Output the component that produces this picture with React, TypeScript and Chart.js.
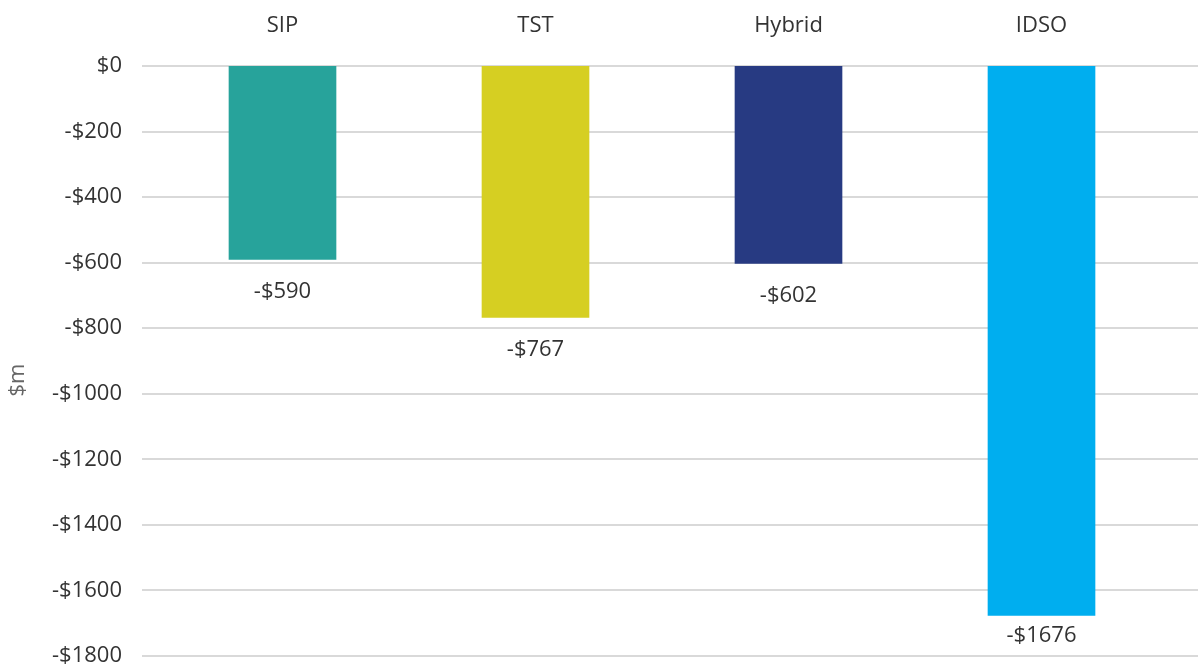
import React, { useEffect, useRef } from "react";
import { Chart, registerables } from "chart.js";

Chart.register(...registerables);

const categories = ["SIP", "TST", "Hybrid", "IDSO"];
const values = [-590, -767, -602, -1676];
const barColors = ["#27A39B", "#D6CF22", "#273A82", "#00AEEF"];
const yMin = -1800;
const yMax = 0;
const yStep = 200;
const yTitle = "$m";

const FONT = "'Open Sans', sans-serif";
const TEXT = "#333333";
const FS = 22;

const fmt = (v: number) => (v === 0 ? "$0" : (v < 0 ? "-$" : "$") + Math.abs(v));

const extrasPlugin = {
  id: "extras",
  beforeDatasetsDraw(chart: any) {
    const { ctx, scales, chartArea } = chart;
    const y = scales.y;
    ctx.save();
    ctx.strokeStyle = "#d9d9d9";
    ctx.lineWidth = 2;
    for (let v = yMax; v >= yMin; v -= yStep) {
      const py = Math.round(y.getPixelForValue(v));
      ctx.beginPath();
      ctx.moveTo(chartArea.left - 14, py);
      ctx.lineTo(chart.width, py);
      ctx.stroke();
    }
    ctx.restore();
  },
  afterDatasetsDraw(chart: any) {
    const { ctx, chartArea } = chart;
    const meta = chart.getDatasetMeta(0);
    ctx.save();
    ctx.font = `${FS}px ${FONT}`;
    ctx.fillStyle = TEXT;
    ctx.textAlign = "center";
    ctx.textBaseline = "middle";
    meta.data.forEach((bar: any, i: number) => {
      const ly = Math.min(bar.y + 32, Math.max(chartArea.bottom - 31, bar.y + 20));
      ctx.fillText(fmt(values[i]), bar.x, ly);
    });
    // rotated axis title
    ctx.fillStyle = "#666666";
    ctx.translate(18, (chartArea.top + chartArea.bottom) / 2 + 19);
    ctx.rotate(-Math.PI / 2);
    ctx.fillText(yTitle, 0, 0);
    ctx.restore();
  },
};

export default function App() {
  const ref = useRef<HTMLCanvasElement | null>(null);
  useEffect(() => {
    document.body.style.margin = "0";
    if (!ref.current) return;
    const chart = new Chart(ref.current, {
      type: "bar",
      data: {
        labels: categories,
        datasets: [
          {
            data: values,
            backgroundColor: barColors,
            barThickness: 107,
            borderWidth: 0,
          },
        ],
      },
      options: {
        animation: false,
        responsive: false,
        maintainAspectRatio: false,
        layout: { padding: { top: 0, right: 30, bottom: 14, left: 0 } },
        plugins: { legend: { display: false }, tooltip: { enabled: false } },
        scales: {
          x: {
            position: "top",
            grid: { display: false, drawTicks: false },
            border: { display: false },
            ticks: { font: { family: FONT, size: FS }, color: TEXT, padding: 27 },
            afterFit: (s: any) => {
              s.height = 66;
            },
          },
          y: {
            min: yMin,
            max: yMax,
            grid: { display: false, drawTicks: false },
            border: { display: false },
            ticks: {
              stepSize: yStep,
              font: { family: FONT, size: FS },
              color: TEXT,
              padding: 34,
              callback: (v: any) => fmt(Number(v)),
            },
            afterFit: (s: any) => {
              s.width = 156;
              s.paddingTop = 0;
              s.paddingBottom = 0;
            },
          },
        },
      },
      plugins: [extrasPlugin],
    });
    return () => chart.destroy();
  }, []);
  return (
    <div style={{ width: 1198, height: 670 }}>
      <canvas ref={ref} width={1198} height={670} style={{ display: "block" }} />
    </div>
  );
}
